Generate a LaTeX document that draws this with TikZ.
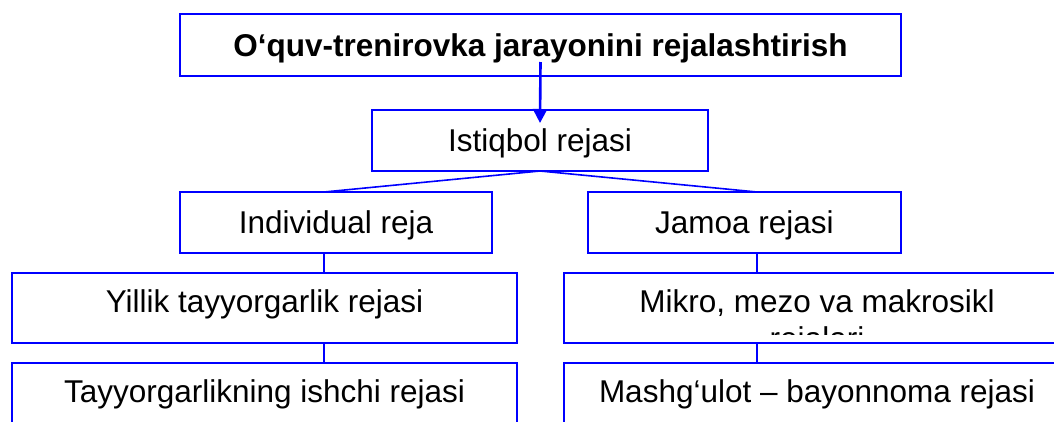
\documentclass[tikz,border=0pt]{standalone}
\usepackage{fontspec}
\setmainfont{Liberation Sans}
\usetikzlibrary{arrows.meta}
\begin{document}
\begin{tikzpicture}[x=1pt,y=-1pt,
  box/.style={draw=blue,line width=1.8pt,rectangle,inner sep=0pt,outer sep=0pt,
    font=\fontsize{31.5}{36}\selectfont,text height=22.6pt},
  midbox/.style={box,text depth=0pt},
  topbox/.style={box,text depth=13pt},
  link/.style={draw=blue,line width=1.6pt},
  arr/.style={draw=blue,line width=2.6pt,-{Triangle[length=14pt,width=14pt]}}]
\clip (0,0) rectangle (1054,421);
\fill[white] (0,0) rectangle (1054,421);
\coordinate (lx) at (324,0);
\coordinate (rx) at (757,0);
\node[midbox,minimum width=721pt,minimum height=62pt] (top) at (540.5,45) {\bfseries O‘quv-trenirovka jarayonini rejalashtirish};
\node[midbox,minimum width=336pt,minimum height=61pt] (ist) at (540,140.5) {Istiqbol rejasi};
\node[midbox,minimum width=312pt,minimum height=61pt] (ind) at (336,222.5) {Individual reja};
\node[midbox,minimum width=313pt,minimum height=61pt] (jam) at (744.5,222.5) {Jamoa rejasi};
\node[topbox,minimum width=505pt,minimum height=70pt] (yil) at (264.5,308) {Yillik tayyorgarlik rejasi};
\node[topbox,minimum width=506pt,minimum height=70pt] (mik) at (817,308) {Mikro, mezo va makrosikl};
\node[topbox,minimum width=505pt,minimum height=70pt] (tay) at (264.5,398) {Tayyorgarlikning ishchi rejasi};
\node[topbox,minimum width=506pt,minimum height=70pt] (mas) at (817,398) {Mashg‘ulot – bayonnoma rejasi};
\begin{scope}
\clip (566,300) rectangle (1054,334);
\node[font=\fontsize{31.5}{36}\selectfont,inner sep=0pt,anchor=base] (rej) at (817,349) {rejalari};
\end{scope}
\draw[arr] ([yshift=14pt]top.south) -- ([yshift=-13pt]ist.north);
\draw[link] (ist.south) -- (ind.north -| lx);
\draw[link] (ist.south) -- (jam.north -| rx);
\draw[link] (ind.south -| lx) -- (yil.north -| lx);
\draw[link] (yil.south -| lx) -- (tay.north -| lx);
\draw[link] (jam.south -| rx) -- (mik.north -| rx);
\draw[link] (mik.south -| rx) -- (mas.north -| rx);
\end{tikzpicture}
\end{document}
